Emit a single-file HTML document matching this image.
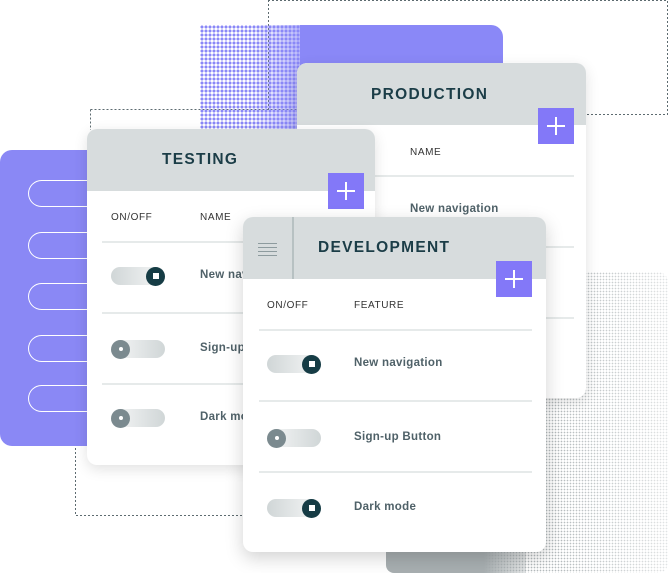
<!DOCTYPE html>
<html><head><meta charset="utf-8"><style>
*{margin:0;padding:0;box-sizing:border-box}
body{width:668px;height:573px;background:#fff;position:relative;overflow:hidden;font-family:"Liberation Sans",sans-serif;color:#1b3d47}
.abs{position:absolute}
.card{position:absolute;background:#fff;border-radius:10px;box-shadow:0 4px 14px rgba(0,0,0,.12);overflow:hidden}
.hdr{position:absolute;left:0;right:0;top:0;background:#d7dcdd}
.title{position:absolute;font-weight:bold;font-size:15.5px;letter-spacing:1.3px;color:#1b3d47}
.plus{position:absolute;width:36px;height:36px;background:#8378f8}
.plus:before{content:"";position:absolute;left:17px;top:9px;width:2px;height:18px;background:#fff}
.plus:after{content:"";position:absolute;left:9px;top:17px;width:18px;height:2px;background:#fff}
.col{position:absolute;font-size:10px;letter-spacing:.6px;color:#333}
.line{position:absolute;height:2px;background:#e6eaea}
.lbl{position:absolute;font-size:11.5px;font-weight:bold;color:#4f6168;letter-spacing:.3px}
.tg{position:absolute;width:54px;height:18px;border-radius:9px}
.tg.on{background:linear-gradient(90deg,#d0d6d7,#f7f8f8)}
.tg.off{background:linear-gradient(90deg,#f7f8f8,#d0d6d7)}
.tg i{position:absolute;top:-0.5px;width:19px;height:19px;border-radius:50%}
.tg.on i{right:0;background:#163c45}
.tg.on i:after{content:"";position:absolute;left:6.5px;top:6.5px;width:6px;height:6px;background:#fff}
.tg.off i{left:0;background:#7b8a8f}
.tg.off i:after{content:"";position:absolute;left:7.5px;top:7.5px;width:4px;height:4px;border-radius:50%;background:#fff}
</style></head><body>
<svg class="abs" style="left:0;top:0" width="668" height="573">
<g stroke="#5d6b70" stroke-width="1" stroke-dasharray="2,2" fill="none">
<path d="M268.5 0 V110 M268 0.5 H667.5 V114.5 H580"/>
<path d="M90.5 109.5 H300 M90.5 109.5 V130"/>
<path d="M75.5 440 V515.5 H250"/>
</g>
</svg>
<!-- grey dither bottom right -->
<div class="abs" style="left:386px;top:272px;width:282px;height:301px;border-radius:10px;background-image:radial-gradient(#b4babc 0.7px,transparent 0.9px);background-size:3px 3px;-webkit-mask-image:linear-gradient(90deg,#000 60%,rgba(0,0,0,.4));mask-image:linear-gradient(90deg,#000 60%,rgba(0,0,0,.4))"></div>
<div class="abs" style="left:386px;top:520px;width:140px;height:53px;border-radius:0 0 0 8px;background:linear-gradient(90deg,#a8afb1 70%,rgba(168,175,177,.3))"></div>
<!-- purple top -->
<div class="abs" style="left:300px;top:25px;width:203px;height:110px;border-radius:0 12px 0 0;background:#8a88f7"></div>
<div class="abs" style="left:200px;top:25px;width:100px;height:110px;background-image:radial-gradient(#8a88f7 1.4px,transparent 1.6px);background-size:4px 4px"></div>
<div class="abs" style="left:250px;top:25px;width:50px;height:110px;background:linear-gradient(90deg,rgba(138,136,247,0),rgba(138,136,247,.6))"></div>
<!-- purple left -->
<div class="abs" style="left:0;top:150px;width:110px;height:296px;border-radius:12px 0 0 12px;background:#8a88f5"></div>
<div class="abs" style="left:28px;top:180px;width:90px;height:27px;border:1.2px solid #fff;border-right:none;border-radius:14px 0 0 14px"></div>
<div class="abs" style="left:28px;top:232px;width:90px;height:27px;border:1.2px solid #fff;border-right:none;border-radius:14px 0 0 14px"></div>
<div class="abs" style="left:28px;top:283px;width:90px;height:27px;border:1.2px solid #fff;border-right:none;border-radius:14px 0 0 14px"></div>
<div class="abs" style="left:28px;top:335px;width:90px;height:27px;border:1.2px solid #fff;border-right:none;border-radius:14px 0 0 14px"></div>
<div class="abs" style="left:28px;top:385px;width:90px;height:27px;border:1.2px solid #fff;border-right:none;border-radius:14px 0 0 14px"></div>

<!-- production -->
<div class="card" style="left:297px;top:63px;width:289px;height:335px">
<div class="hdr" style="height:62px"></div>
<div class="title" style="left:74px;top:23px">PRODUCTION</div>
<div class="plus" style="left:241px;top:45px"></div>
<div class="col" style="left:113px;top:84px">NAME</div>
<div class="line" style="left:13px;top:112px;width:264px"></div>
<div class="lbl" style="left:113px;top:140px">New navigation</div>
<div class="line" style="left:13px;top:183px;width:264px"></div>
<div class="line" style="left:13px;top:254px;width:264px"></div>
</div>

<!-- testing -->
<div class="card" style="left:87px;top:129px;width:288px;height:336px">
<div class="hdr" style="height:62px"></div>
<div class="title" style="left:75px;top:22px">TESTING</div>
<div class="plus" style="left:241px;top:44px"></div>
<div class="col" style="left:24px;top:83px">ON/OFF</div>
<div class="col" style="left:113px;top:83px">NAME</div>
<div class="line" style="left:15px;top:112px;width:270px"></div>
<div class="tg on" style="left:24px;top:138px"><i></i></div>
<div class="lbl" style="left:113px;top:140px">New navigation</div>
<div class="line" style="left:15px;top:183px;width:270px"></div>
<div class="tg off" style="left:24px;top:211px"><i></i></div>
<div class="lbl" style="left:113px;top:213px">Sign-up Button</div>
<div class="line" style="left:15px;top:254px;width:270px"></div>
<div class="tg off" style="left:24px;top:280px"><i></i></div>
<div class="lbl" style="left:113px;top:282px">Dark mode</div>
</div>

<!-- development -->
<div class="card" style="left:243px;top:217px;width:303px;height:335px;box-shadow:0 6px 18px rgba(0,0,0,.18)">
<div class="hdr" style="height:62px"></div>
<div class="abs" style="left:49px;top:0;width:2px;height:62px;background:#b7c1c2"></div>
<div class="abs" style="left:15px;top:26px;width:19px;height:1px;background:#8d9b9e;box-shadow:0 4px 0 #8d9b9e,0 8px 0 #8d9b9e,0 12px 0 #8d9b9e"></div>
<div class="title" style="left:75px;top:22px">DEVELOPMENT</div>
<div class="plus" style="left:253px;top:44px"></div>
<div class="col" style="left:24px;top:83px">ON/OFF</div>
<div class="col" style="left:111px;top:83px">FEATURE</div>
<div class="line" style="left:16px;top:112px;width:273px"></div>
<div class="tg on" style="left:24px;top:138px"><i></i></div>
<div class="lbl" style="left:111px;top:140px">New navigation</div>
<div class="line" style="left:16px;top:183px;width:273px"></div>
<div class="tg off" style="left:24px;top:212px"><i></i></div>
<div class="lbl" style="left:111px;top:214px">Sign-up Button</div>
<div class="line" style="left:16px;top:254px;width:273px"></div>
<div class="tg on" style="left:24px;top:282px"><i></i></div>
<div class="lbl" style="left:111px;top:284px">Dark mode</div>
</div>
</body></html>
